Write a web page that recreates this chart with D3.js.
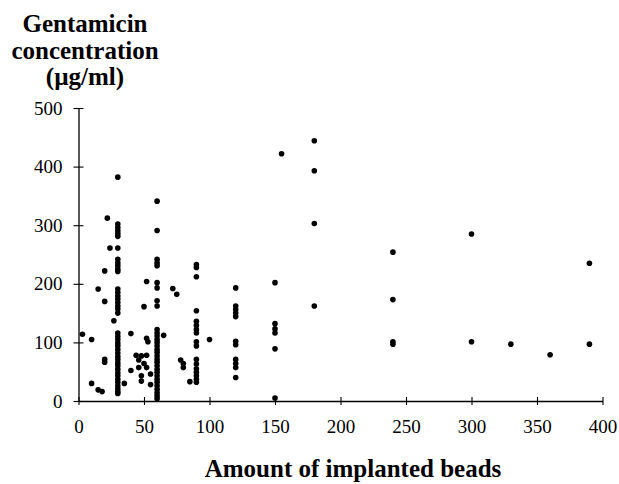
<!DOCTYPE html>
<html>
<head>
<meta charset="utf-8">
<script src="https://cdn.jsdelivr.net/npm/d3@7"></script>
</head>
<body style="margin:0">
<svg id="chart" width="619" height="484" style="font-family: Liberation Serif, DejaVu Serif, serif"></svg>
<script>
// tick labels
var xTicks = [0, 50, 100, 150, 200, 250, 300, 350, 400];
var yTicks = [0, 100, 200, 300, 400, 500];

// scattered points with few beads
var lowDoses = [[3, 114], [10, 105], [10, 30], [15, 19], [18, 16], [15, 191], [20, 222],
  [20, 170], [20, 71], [20, 66], [22, 312], [24, 261], [27, 137]];

// dense columns: amount of beads -> concentrations
var col30 = [382, 302, 296, 291, 286, 281, 261, 242, 236, 231, 225, 221, 191, 185, 179, 174,
  168, 162, 157, 150, 116, 110, 105, 99, 94, 88, 82, 76, 71, 65, 60, 54, 48, 43, 37, 32, 26, 21, 16, 13];
var col60 = [341, 291, 242, 236, 231, 202, 193, 171, 162, 122, 116, 111, 105, 100, 94, 88, 83,
  77, 71, 66, 60, 54, 49, 43, 37, 32, 26, 20, 14, 9, 4];
var col90 = [233, 228, 212, 154, 136, 129, 122, 116, 101, 94, 71, 63, 55, 49, 43, 37, 32];
var col120 = [193, 162, 156, 150, 144, 102, 96, 71, 64, 57, 40];
var col150 = [202, 132, 123, 116, 89, 5];
var col180 = [444, 393, 303, 162];
var col240 = [254, 173, 101, 97];

// remaining scattered points
var midDoses = [[35, 30], [40, 115], [40, 52], [44, 78], [48, 77], [52, 78], [46, 70], [50, 64],
  [46, 57], [52, 57], [48, 43], [48, 34], [55, 46], [55, 28], [52, 204], [50, 161], [52, 107],
  [53, 101], [65, 112], [72, 192], [75, 182], [78, 70], [80, 64], [80, 57], [85, 33], [100, 105]];
var highDoses = [[155, 422], [300, 285], [300, 101], [330, 97], [360, 79], [390, 235], [390, 97]];

function column(x, vals) {
  return vals.map(function (v) { return [x, v]; });
}

var points = [].concat(lowDoses, midDoses, highDoses,
  column(30, col30), column(60, col60), column(90, col90), column(120, col120),
  column(150, col150), column(180, col180), column(240, col240));

var svg = d3.select("#chart");

var x = d3.scaleLinear().domain([0, 400]).range([78.5, 602.5]);
var y = d3.scaleLinear().domain([0, 500]).range([401, 108]);

// x axis, ticks crossing the line
var gx = svg.append("g")
  .attr("transform", "translate(0," + y(0) + ")")
  .call(d3.axisBottom(x).tickValues(xTicks).tickSize(4).tickSizeOuter(0));
gx.attr("font-family", "Liberation Serif").attr("font-size", 19);
gx.select(".domain").attr("stroke", "#000").attr("stroke-width", 1.3);
gx.selectAll(".tick line").attr("y1", -4).attr("y2", 4).attr("stroke-width", 1.1);
gx.selectAll(".tick text")
  .attr("y", 19)
  .attr("dy", "0.71em")
  .attr("style", "font-family: Liberation Serif; font-size: 19px");

// y axis
var gy = svg.append("g")
  .attr("transform", "translate(" + x(0) + ",0)")
  .call(d3.axisLeft(y).tickValues(yTicks).tickSize(5).tickSizeOuter(0));
gy.attr("font-family", "Liberation Serif").attr("font-size", 19);
gy.select(".domain").attr("stroke", "#000").attr("stroke-width", 1.3);
gy.selectAll(".tick line").attr("x1", -5).attr("x2", 5).attr("stroke-width", 1.1);
gy.selectAll(".tick text")
  .attr("x", -16)
  .attr("style", "font-family: Liberation Serif; font-size: 19px");

// points
svg.append("g").selectAll("circle")
  .data(points)
  .enter().append("circle")
  .attr("cx", function (d) { return x(d[0]); })
  .attr("cy", function (d) { return y(d[1]); })
  .attr("r", 2.8)
  .attr("fill", "#000");

// titles
var yTitleLines = ["Gentamicin", "concentration", "(\u00b5g/ml)"];
svg.append("g").selectAll("text")
  .data(yTitleLines)
  .enter().append("text")
  .attr("x", 85)
  .attr("y", function (d, i) { return 32 + i * 26.5; })
  .attr("text-anchor", "middle")
  .attr("style", "font-family: Liberation Serif; font-size: 25px; font-weight: bold")
  .text(function (d) { return d; });

svg.append("text")
  .attr("x", 353)
  .attr("y", 477)
  .attr("text-anchor", "middle")
  .attr("style", "font-family: Liberation Serif; font-size: 25px; font-weight: bold")
  .text("Amount of implanted beads");
</script>
</body>
</html>
